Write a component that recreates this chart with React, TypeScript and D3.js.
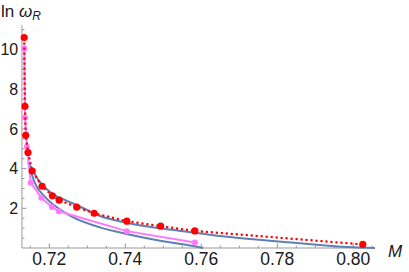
import React from "react";
import * as d3 from "d3";

const W = 409;
const H = 272;

// Red series (points joined by a dotted line)
const redM = [0.7134, 0.7136, 0.7138, 0.7144, 0.7155, 0.7181, 0.7208, 0.7226, 0.7272, 0.7318, 0.7404, 0.7493, 0.7583, 0.8025];
const redLn = [10.6, 7.14, 5.68, 4.81, 3.88, 3.11, 2.63, 2.41, 2.06, 1.75, 1.35, 1.1, 0.86, 0.18];

// Magenta series (points joined by a solid line)
const magM = [0.7134, 0.7136, 0.7141, 0.7151, 0.7179, 0.7207, 0.7225, 0.7404, 0.7583];
const magLn = [10.05, 6.57, 5.1, 3.29, 2.53, 2.06, 1.85, 0.85, 0.28];

// Upper fitted curve (blue)
const fitUpM = [0.71447, 0.71711, 0.72063, 0.72413, 0.72763, 0.73334, 0.74037, 0.74913, 0.75834, 0.76492, 0.77368, 0.78247, 0.79124, 0.8, 0.8057];
const fitUpLn = [4.35, 3.43, 2.76, 2.42, 2.13, 1.61, 1.27, 0.99, 0.77, 0.6, 0.44, 0.29, 0.15, 0.035, 0];

// Lower fitted curve (blue)
const fitLoM = [0.71447, 0.71624, 0.71887, 0.72237, 0.72589, 0.73334, 0.74037, 0.74913, 0.75789, 0.76053];
const fitLoLn = [4.3, 3.26, 2.58, 2.0, 1.58, 1.04, 0.71, 0.37, 0.1, 0];

const xMajor = [0.72, 0.74, 0.76, 0.78, 0.8];
const xMajorLabels = ["0.72", "0.74", "0.76", "0.78", "0.80"];
const yMajor = [2, 4, 6, 8, 10];

const BLUE = "#5E81B5";
const RED = "#FF0000";
const MAG = "#FF78FF";
const AXIS = "#999999";
const FONT = "'Liberation Sans', Arial, sans-serif";

export default function App() {
  const x = d3.scaleLinear().domain([0.72, 0.8]).range([49.3, 353.3]);
  const y = d3.scaleLinear().domain([0, 10]).range([248, 49.5]);

  const xMin = 0.7128;
  const xMax = 0.8057;
  const yMax = 11.23;

  const xMinor = d3.range(0.715, 0.8051, 0.005).filter(
    (v) => !xMajor.some((m) => Math.abs(m - v) < 1e-6)
  );
  const yMinor = d3.range(0.5, 11.01, 0.5).filter(
    (v) => !yMajor.some((m) => Math.abs(m - v) < 1e-6)
  );

  const smooth = d3
    .line<[number, number]>()
    .x((d) => x(d[0]))
    .y((d) => y(d[1]))
    .curve(d3.curveMonotoneX);
  const straight = d3
    .line<[number, number]>()
    .x((d) => x(d[0]))
    .y((d) => y(d[1]));

  const up = fitUpM.map((m, i) => [m, fitUpLn[i]] as [number, number]);
  const lo = fitLoM.map((m, i) => [m, fitLoLn[i]] as [number, number]);
  const red = redM.map((m, i) => [m, redLn[i]] as [number, number]);
  const mag = magM.map((m, i) => [m, magLn[i]] as [number, number]);

  const x0 = x(xMin);
  const y0 = y(0);

  return (
    <div style={{ position: "absolute", left: 0, top: 0 }}>
      <svg width={W} height={H} style={{ display: "block" }}>
        <rect width={W} height={H} fill="#fff" />
        {/* axes */}
        <line x1={x0} x2={x(xMax)} y1={y0} y2={y0} stroke={AXIS} strokeWidth={1} />
        <line x1={x0} x2={x0} y1={y0} y2={y(yMax)} stroke={AXIS} strokeWidth={1} />
        {xMajor.map((v) => (
          <line key={"xM" + v} x1={x(v)} x2={x(v)} y1={y0} y2={y0 - 4.5} stroke={AXIS} />
        ))}
        {xMinor.map((v) => (
          <line key={"xm" + v} x1={x(v)} x2={x(v)} y1={y0} y2={y0 - 2.5} stroke={AXIS} />
        ))}
        {yMajor.map((v) => (
          <line key={"yM" + v} x1={x0} x2={x0 + 4.5} y1={y(v)} y2={y(v)} stroke={AXIS} />
        ))}
        {yMinor.map((v) => (
          <line key={"ym" + v} x1={x0} x2={x0 + 2.5} y1={y(v)} y2={y(v)} stroke={AXIS} />
        ))}
        {xMajor.map((v, i) => (
          <text key={"xl" + v} x={x(v)} y={264.5} textAnchor="middle" fontFamily={FONT} fontSize={17.5} fill="#1a1a1a">
            {xMajorLabels[i]}
          </text>
        ))}
        {yMajor.map((v) => (
          <text key={"yl" + v} x={18.2} y={y(v)} dy="0.35em" textAnchor="end" fontFamily={FONT} fontSize={16} fill="#1a1a1a">
            {v}
          </text>
        ))}
        {/* axis labels */}
        <text x={1} y={17} fontFamily={FONT} fontSize={17} fill="#1a1a1a">
          ln <tspan fontStyle="italic">ω</tspan>
          <tspan fontStyle="italic" fontSize={12} dy={3}>R</tspan>
        </text>
        <text x={388} y={257} fontFamily={FONT} fontSize={17} fontStyle="italic" fill="#1a1a1a">
          M
        </text>

        {/* fitted curves */}
        <path d={smooth(up) || ""} fill="none" stroke={BLUE} strokeWidth={2} />
        <path d={smooth(lo) || ""} fill="none" stroke={BLUE} strokeWidth={2} />

        {/* magenta data */}
        <path d={straight(mag) || ""} fill="none" stroke={MAG} strokeWidth={2} />
        {mag.map((d, i) => (
          <circle key={"mp" + i} cx={x(d[0])} cy={y(d[1])} r={3} fill={MAG} />
        ))}

        {/* red data */}
        <path d={straight(red) || ""} fill="none" stroke={RED} strokeWidth={2.2} strokeDasharray="2.2,2.8" />
        {red.map((d, i) => (
          <circle key={"rp" + i} cx={x(d[0])} cy={y(d[1])} r={3.6} fill={RED} />
        ))}
      </svg>
    </div>
  );
}
